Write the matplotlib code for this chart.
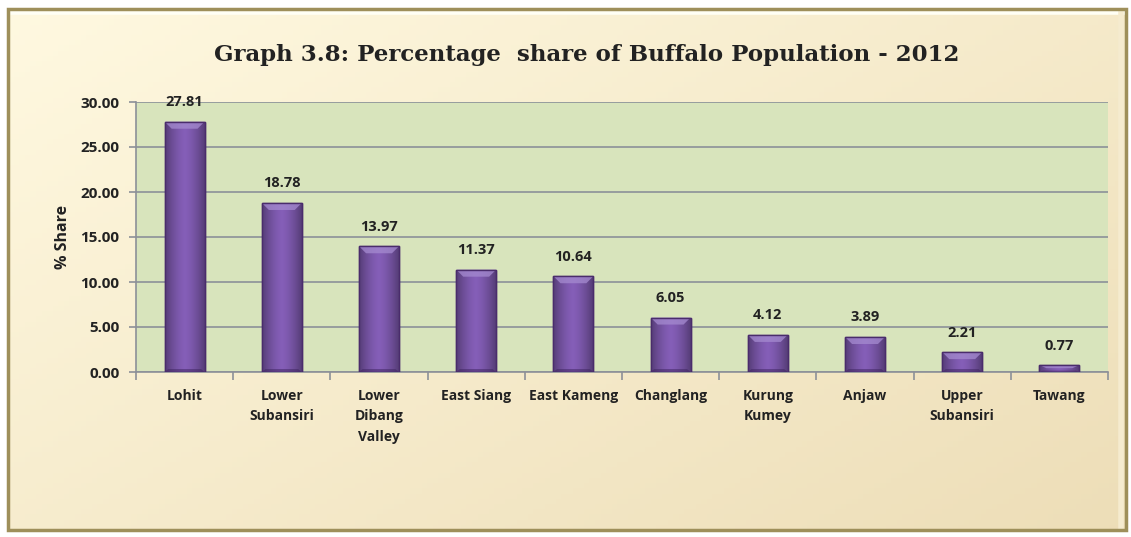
import numpy as np
import matplotlib
matplotlib.use("Agg")
import matplotlib.pyplot as plt
from matplotlib.patches import FancyBboxPatch

districts = ["Lohit", "Lower\nSubansiri", "Lower\nDibang\nValley", "East Siang",
             "East Kameng", "Changlang", "Kurung\nKumey", "Anjaw",
             "Upper\nSubansiri", "Tawang"]
shares = [27.81, 18.78, 13.97, 11.37, 10.64, 6.05, 4.12, 3.89, 2.21, 0.77]
yticks = [0, 5, 10, 15, 20, 25, 30]

W, H = 1131, 537
fig = plt.figure(figsize=(W / 100, H / 100), dpi=100)
fig.patch.set_facecolor("white")

# background panel with gradient
bg = fig.add_axes([0, 0, 1, 1], zorder=0)
bg.set_xlim(0, W)
bg.set_ylim(H, 0)
bg.axis("off")
gx, gy = np.meshgrid(np.linspace(0, 1, 200), np.linspace(0, 1, 100))
t = np.clip(0.55 * gx + 0.45 * gy, 0, 1)
c0 = np.array([1.0, 0.975, 0.88])
c1 = np.array([0.93, 0.87, 0.72])
img = c0[None, None, :] * (1 - t[..., None]) + c1[None, None, :] * t[..., None]
bg.imshow(img, extent=[8, 1126, 530, 9], aspect="auto", zorder=1)
frame = FancyBboxPatch((8, 9), 1118, 521, boxstyle="square,pad=0",
                       fill=False, edgecolor="#9E8F5A", linewidth=2.5, zorder=3)
bg.add_patch(frame)
bg.plot([10, 1124], [12, 12], color="#FFFFF5", lw=4, zorder=2)
bg.plot([1121, 1121], [14, 527], color="#F5EBCF", lw=4, zorder=2)

# plot area
left, right, top, bottom = 136, 1108, 102, 372
ax = fig.add_axes([left / W, 1 - bottom / H, (right - left) / W, (bottom - top) / H], zorder=2)
ax.set_facecolor("#D8E4BC")
x = np.arange(len(districts))
BW = 0.41
bars = ax.bar(x, shares, width=BW, color="#7651A6", edgecolor="#4A2C6C",
              linewidth=1.0, zorder=3)

# bevel-like gradient inside bars
grad = np.linspace(0, 1, 64)
bev = np.abs(grad - 0.5) * 2
cols = np.array([0.52, 0.37, 0.72])[None, :] * (1 - 0.35 * bev[:, None] ** 1.5)
bar_img = np.tile(cols[None, :, :], (2, 1, 1))
ypp = 30 / (bottom - top)           # data units per pixel (y)
xpp = 10 / (right - left)           # data units per pixel (x)
for b in bars:
    bx, bw, bh = b.get_x(), b.get_width(), b.get_height()
    gi = ax.imshow(bar_img, extent=[bx, bx + bw, 0, bh], aspect="auto", zorder=3.5,
                   interpolation="bilinear")
    gi.set_clip_path(b)
    dy = min(7 * ypp, bh * 0.45)
    dx = 7 * xpp
    # top bevel (light)
    ax.fill([bx, bx + bw, bx + bw - dx, bx + dx], [bh, bh, bh - dy, bh - dy],
            color="#A58BD0", alpha=0.75, lw=0, zorder=3.6)
    # bottom bevel (dark)
    db = min(3 * ypp, bh * 0.2)
    ax.fill([bx, bx + bw, bx + bw - dx * 0.5, bx + dx * 0.5], [0, 0, db, db],
            color="#3E2460", alpha=0.5, lw=0, zorder=3.6)
for b in bars:
    ax.bar(b.get_x() + b.get_width() / 2, b.get_height(), width=b.get_width(),
           fill=False, edgecolor="#4A2C6C", linewidth=1.0, zorder=3.7)

ax.set_xlim(-0.5, len(districts) - 0.5)
ax.set_ylim(0, 30)
ax.set_yticks(yticks)
ax.set_yticklabels([f"{v:.2f}" for v in yticks], fontfamily="Open Sans",
                   fontweight="bold", fontsize=11, color="#222222")
ax.grid(axis="y", color="#8C9098", linewidth=1.2, zorder=1)
ax.set_axisbelow(True)
ax.set_xticks(x)
ax.set_xticklabels(districts, fontfamily="Open Sans", fontweight="bold",
                   fontsize=10, color="#222222", linespacing=1.6, va="top")
ax.tick_params(axis="x", length=0, pad=12)
ax.tick_params(axis="y", length=5, color="#8C9098", width=1.2, pad=7)
ax.set_xticks(np.arange(len(districts) + 1) - 0.5, minor=True)
ax.tick_params(axis="x", which="minor", length=6, color="#8C9098", width=1.2)
for s in ["top", "right"]:
    ax.spines[s].set_visible(False)
for s in ["left", "bottom"]:
    ax.spines[s].set_color("#8C9098")
    ax.spines[s].set_linewidth(1.2)

for xi, v in zip(x, shares):
    ax.annotate(f"{v:.2f}", (xi, v), xytext=(0, 9), textcoords="offset points",
                ha="center", va="bottom", fontfamily="Open Sans", fontweight="bold",
                fontsize=10.5, color="#222222", zorder=5)

ax.set_ylabel("% Share", fontfamily="Open Sans", fontweight="bold", fontsize=11.5,
              color="#222222", labelpad=7)

fig.text(587 / W, 1 - 55 / H, "Graph 3.8: Percentage  share of Buffalo Population - 2012",
         ha="center", va="center", fontfamily="DejaVu Serif", fontweight="bold",
         fontsize=16.5, color="#222222")

fig.savefig("out.png", dpi=100, facecolor=fig.get_facecolor())
